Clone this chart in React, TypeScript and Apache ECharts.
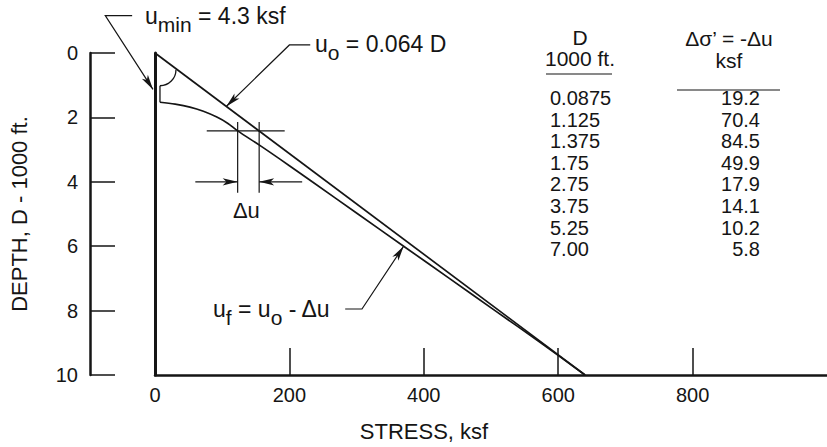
import React, { useEffect, useRef } from "react";
import * as echarts from "echarts";

const FONT = '"Liberation Sans", Arial, Helvetica, sans-serif';
const INK = "#151515";

// ---- axes ----
const stressTickValues = [200, 400, 600, 800];
const stressLabelValues = [0, 200, 400, 600, 800];

// ---- series: [stress (ksf), depth (1000 ft)] ----
const uoLine = [
  [0, 0],
  [640, 10],
];
const ufCurve = [
  [7.4, 1.53],
  [30, 1.59],
  [52, 1.68],
  [72, 1.81],
  [92, 1.99],
  [108, 2.18],
  [123, 2.42],
  [156, 2.87],
  [200, 3.5],
  [234, 4.0],
  [302, 5.0],
  [370, 6.0],
  [438, 7.0],
  [506, 8.0],
  [574, 9.0],
  [640, 10.0],
];

// ---- table ----
const tableDepth = ["0.0875", "1.125", "1.375", "1.75", "2.75", "3.75", "5.25", "7.00"];
const tableDeltaSigma = ["19.2", "70.4", "84.5", "49.9", "17.9", "14.1", "10.2", "5.8"];

// ---- annotation geometry, in data units [stress, depth] ----
const uminLeader = [
  [-34, -1.16],
  [-74, -1.16],
  [-3, 1.13],
];
const uoLeader = [
  [231, -0.25],
  [200, -0.25],
  [106, 1.66],
];
const ufLeader = [
  [283, 7.95],
  [308, 7.95],
  [370, 6.0],
];
const duDepth = 2.42;
const duPair = [123, 155];
const duArrowDepth = 4.0;

export default function App() {
  const ref = useRef<HTMLDivElement>(null);

  useEffect(() => {
    const el = ref.current!;
    const chart = echarts.init(el, null, { renderer: "svg" });
    const tickFont = { fontFamily: FONT, fontSize: 20, color: INK };
    const nameFont = { fontFamily: FONT, fontSize: 22, color: INK };

    chart.setOption({
      animation: false,
      backgroundColor: "#ffffff",
      grid: { left: 155, right: 0, top: 53, bottom: 67 },
      xAxis: {
        type: "value",
        min: 0,
        max: 1000,
        interval: 200,
        name: "STRESS, ksf",
        nameLocation: "middle",
        nameGap: 45,
        nameTextStyle: { ...nameFont, padding: [0, 134, 0, 0] },
        axisLine: { show: true, onZero: false, lineStyle: { color: INK, width: 2.5 } },
        axisTick: {
          show: true,
          inside: true,
          length: 27,
          customValues: stressTickValues,
          lineStyle: { color: INK, width: 1.5 },
        },
        axisLabel: { margin: 10, customValues: stressLabelValues, ...tickFont },
        splitLine: { show: false },
      },
      yAxis: [
        {
          type: "value",
          inverse: true,
          min: 0,
          max: 10,
          interval: 2,
          position: "left",
          offset: 65,
          name: "DEPTH, D - 1000 ft.",
          nameLocation: "middle",
          nameGap: 60,
          nameRotate: 90,
          nameTextStyle: { ...nameFont },
          axisLine: { show: true, onZero: false, lineStyle: { color: INK, width: 2.5 } },
          axisTick: { show: true, inside: true, length: 25, lineStyle: { color: INK, width: 1.5 } },
          axisLabel: { margin: 12, ...tickFont },
          splitLine: { show: false },
        },
        {
          type: "value",
          inverse: true,
          min: 0,
          max: 10,
          position: "left",
          offset: 0,
          axisLine: { show: true, onZero: false, lineStyle: { color: INK, width: 3 } },
          axisTick: { show: false },
          axisLabel: { show: false },
          splitLine: { show: false },
        },
      ],
      series: [
        {
          type: "line",
          name: "u_o",
          data: uoLine,
          xAxisIndex: 0,
          yAxisIndex: 0,
          symbol: "none",
          silent: true,
          lineStyle: { color: INK, width: 1.7 },
        },
        {
          type: "line",
          name: "u_f",
          data: ufCurve,
          xAxisIndex: 0,
          yAxisIndex: 0,
          smooth: 0.35,
          symbol: "none",
          silent: true,
          lineStyle: { color: INK, width: 1.7 },
        },
      ],
    });

    const P = (s: number, d: number): number[] =>
      chart.convertToPixel({ xAxisIndex: 0, yAxisIndex: 0 }, [s, d]) as number[];

    const ctx = document.createElement("canvas").getContext("2d")!;
    const tw = (t: string, size: number) => {
      ctx.font = `${size}px ${FONT}`;
      return ctx.measureText(t).width;
    };

    const els: any[] = [];
    const txt = (text: string, x: number, y: number, align = "left", size = 21) =>
      els.push({
        type: "text",
        x,
        y,
        silent: true,
        style: {
          text,
          fontFamily: FONT,
          fontSize: size,
          fill: INK,
          align,
          textAlign: align,
          verticalAlign: "middle",
          textVerticalAlign: "middle",
        },
      });
    const seq = (parts: { t: string; sub?: boolean }[], x: number, y: number) => {
      let cx = x;
      parts.forEach((p) => {
        const size = p.sub ? 21 : 23;
        txt(p.t, cx, p.sub ? y + 8 : y, "left", size);
        cx += tw(p.t, size);
      });
    };
    const line = (a: number[], b: number[], w = 1.3) =>
      els.push({
        type: "line",
        silent: true,
        shape: { x1: a[0], y1: a[1], x2: b[0], y2: b[1] },
        style: { stroke: INK, lineWidth: w },
      });
    const arrowHead = (from: number[], tip: number[], L = 15, hw = 3.6) => {
      const dx = tip[0] - from[0];
      const dy = tip[1] - from[1];
      const n = Math.hypot(dx, dy);
      const ux = dx / n;
      const uy = dy / n;
      const bx = tip[0] - ux * L;
      const by = tip[1] - uy * L;
      const mx = tip[0] - ux * L * 0.75;
      const my = tip[1] - uy * L * 0.75;
      els.push({
        type: "polygon",
        silent: true,
        shape: {
          points: [tip, [bx - uy * hw, by + ux * hw], [mx, my], [bx + uy * hw, by - ux * hw]],
        },
        style: { fill: INK },
      });
    };
    const leader = (pts: number[][]) => {
      const px = pts.map((p) => P(p[0], p[1]));
      els.push({
        type: "polyline",
        silent: true,
        shape: { points: px },
        style: { stroke: INK, lineWidth: 1.2, fill: null },
      });
      arrowHead(px[px.length - 2], px[px.length - 1]);
    };

    leader(uminLeader);
    leader(uoLeader);
    leader(ufLeader);

    // angle marker arc at the top of the u_f curve
    const arcC = P(7.4, 0.52);
    els.push({
      type: "arc",
      silent: true,
      shape: { cx: arcC[0], cy: arcC[1], r: 16, startAngle: 0, endAngle: Math.PI / 2, clockwise: true },
      style: { stroke: INK, lineWidth: 1.3, fill: null },
    });
    line([arcC[0], arcC[1] + 16], P(7.4, ufCurve[0][1]), 1.3);

    // delta-u dimension marks
    line(P(77, duDepth), P(193, duDepth), 1.2);
    line(P(duPair[0], 2.14), P(duPair[0], 4.34), 1.2);
    line(P(duPair[1], 2.14), P(duPair[1], 4.34), 1.2);
    const aL = P(60, duArrowDepth);
    const aLt = P(duPair[0], duArrowDepth);
    line(aL, aLt, 1.2);
    arrowHead(aL, aLt);
    const aR = P(219, duArrowDepth);
    const aRt = P(duPair[1], duArrowDepth);
    line(aR, aRt, 1.2);
    arrowHead(aR, aRt);
    const duLab = P((duPair[0] + duPair[1]) / 2 - 3, 4.9);
    txt("\u0394u", duLab[0], duLab[1], "center", 22);

    // annotation labels
    seq([{ t: "u" }, { t: "min", sub: true }, { t: " = 4.3 ksf" }], 145, 16);
    seq([{ t: "u" }, { t: "o", sub: true }, { t: " = 0.064 D" }], 315, 44);
    seq(
      [{ t: "u" }, { t: "f", sub: true }, { t: " = u" }, { t: "o", sub: true }, { t: " - \u0394u" }],
      213,
      309
    );

    // table
    txt("D", 580, 37, "center");
    txt("1000 ft.", 580, 58, "center");
    txt("\u0394\u03c3\u2019 = -\u0394u", 729, 38, "center");
    txt("ksf", 729, 60, "center");
    line([546, 74], [612, 74], 1.2);
    line([677, 90], [780, 90], 1.2);
    tableDepth.forEach((t, i) => txt(t, 550, 98 + i * 21.6, "left", 20));
    tableDeltaSigma.forEach((t, i) => txt(t, 760, 98 + i * 21.6, "right", 20));

    chart.setOption({ graphic: { elements: els } });

    return () => chart.dispose();
  }, []);

  return (
    <div
      ref={ref}
      style={{ position: "fixed", left: 0, top: 0, width: 827, height: 447, background: "#fff" }}
    />
  );
}
